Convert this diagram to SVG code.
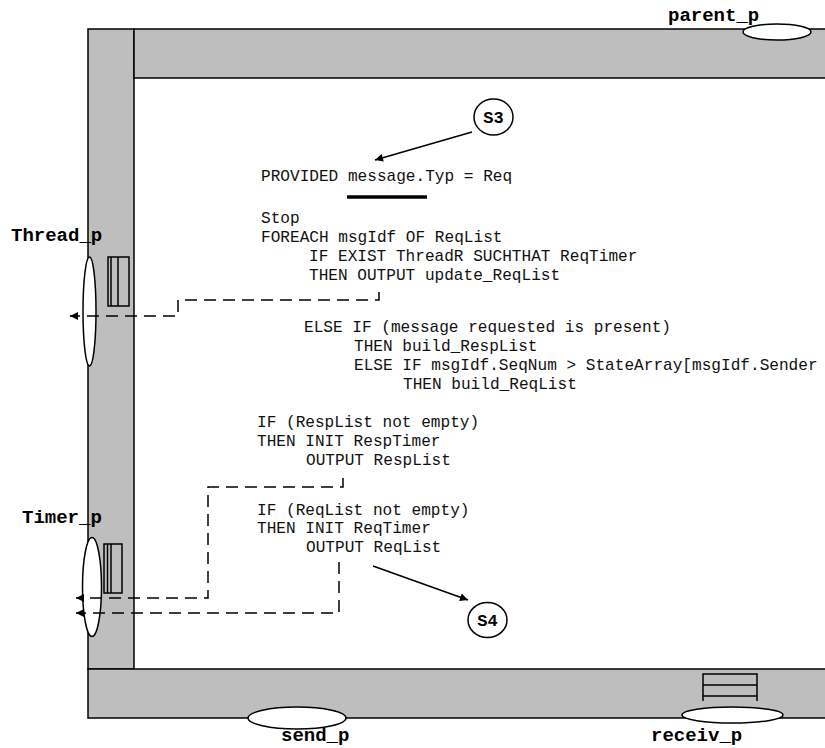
<svg xmlns="http://www.w3.org/2000/svg" width="825" height="748" viewBox="0 0 825 748">
<defs>
<style>
.bar{fill:#bebebe;stroke:#000;stroke-width:1.5}
.port{fill:#fff;stroke:#000;stroke-width:1.5}
.q{fill:none;stroke:#000;stroke-width:1.5}
.lbl{font-family:"Liberation Mono","Courier New",monospace;font-weight:bold;font-size:19px;fill:#000}
.code{font-family:"Liberation Mono","Courier New",monospace;font-size:16.1px;fill:#111}
.st{font-family:"Liberation Mono","Courier New",monospace;font-weight:bold;font-size:17px;fill:#000}
.dash{fill:none;stroke:#000;stroke-width:1.5;stroke-dasharray:12 7}
.arr{fill:none;stroke:#000;stroke-width:1.5}
</style>
<marker id="ah" viewBox="0 0 10 10" refX="10" refY="5" markerWidth="10" markerHeight="8" markerUnits="userSpaceOnUse" orient="auto">
<path d="M0,0 L10,5 L0,10 Z" fill="#000"/>
</marker>
</defs>

<g id="frame">
<rect class="bar" x="88" y="29" width="46" height="640"/>
<rect class="bar" x="134" y="29" width="700" height="49"/>
<rect class="bar" x="88" y="669" width="746" height="49"/>
</g>

<g id="parent_p">
<ellipse class="port" cx="777" cy="32" rx="34" ry="8"/>
<text class="lbl" x="668" y="21">parent_p</text>
</g>

<g id="Thread_p">
<ellipse class="port" cx="89.5" cy="311.5" rx="6.5" ry="54.5"/>
<rect class="q" x="108" y="257" width="21" height="49"/>
<line class="q" x1="111" y1="257" x2="111" y2="306"/>
<line class="q" x1="118" y1="257" x2="118" y2="306"/>
<text class="lbl" x="11" y="241">Thread_p</text>
</g>

<g id="Timer_p">
<ellipse class="port" cx="92" cy="587" rx="9.5" ry="49.5"/>
<rect class="q" x="104" y="544" width="18" height="49"/>
<line class="q" x1="107.5" y1="544" x2="107.5" y2="593"/>
<line class="q" x1="111" y1="544" x2="111" y2="593"/>
<text class="lbl" x="22" y="523">Timer_p</text>
</g>

<g id="send_p">
<ellipse class="port" cx="297" cy="718" rx="49" ry="11"/>
<text class="lbl" x="281" y="741">send_p</text>
</g>

<g id="receiv_p">
<path class="q" d="M703,701 V674 H757 V701 M703,685 H757 M703,696 H757"/>
<ellipse class="port" cx="732.5" cy="715" rx="50.5" ry="8"/>
<text class="lbl" x="651" y="741">receiv_p</text>
</g>

<g id="S3">
<ellipse class="port" cx="493.5" cy="117" rx="19.5" ry="18"/>
<text class="st" x="493.5" y="123" text-anchor="middle">S3</text>
</g>

<g id="S4">
<ellipse class="port" cx="487.5" cy="620" rx="19.5" ry="17.5"/>
<text class="st" x="487.5" y="626" text-anchor="middle">S4</text>
</g>

<g id="transition">
<text class="code" x="261" y="181">PROVIDED message.Typ = Req</text>
<line x1="347" y1="197" x2="427" y2="197" stroke="#000" stroke-width="3.5"/>
<text class="code" x="261" y="223">Stop</text>
<text class="code" x="261" y="242">FOREACH msgIdf OF ReqList</text>
<text class="code" x="309" y="261">IF EXIST ThreadR SUCHTHAT ReqTimer</text>
<text class="code" x="309" y="280">THEN OUTPUT update_ReqList</text>
<text class="code" x="304" y="332">ELSE IF (message requested is present)</text>
<text class="code" x="354" y="351">THEN build_RespList</text>
<text class="code" x="354" y="370">ELSE IF msgIdf.SeqNum &gt; StateArray[msgIdf.Sender</text>
<text class="code" x="403" y="389">THEN build_ReqList</text>
<text class="code" x="257" y="427">IF (RespList not empty)</text>
<text class="code" x="257" y="446">THEN INIT RespTimer</text>
<text class="code" x="306" y="465">OUTPUT RespList</text>
<text class="code" x="257" y="515">IF (ReqList not empty)</text>
<text class="code" x="257" y="533">THEN INIT ReqTimer</text>
<text class="code" x="306" y="552">OUTPUT ReqList</text>
</g>

<g id="connectors">
<line class="arr" x1="472" y1="132" x2="375" y2="160" marker-end="url(#ah)"/>
<line class="arr" x1="373" y1="566" x2="468" y2="600" marker-end="url(#ah)"/>
<path class="dash" d="M379,292 V300 H178 V316 H70" marker-end="url(#ah)"/>
<path class="dash" d="M343,478 V487 H208 V598 H76" marker-end="url(#ah)"/>
<path class="dash" d="M339,562 V613 H76" marker-end="url(#ah)"/>
</g>
</svg>
